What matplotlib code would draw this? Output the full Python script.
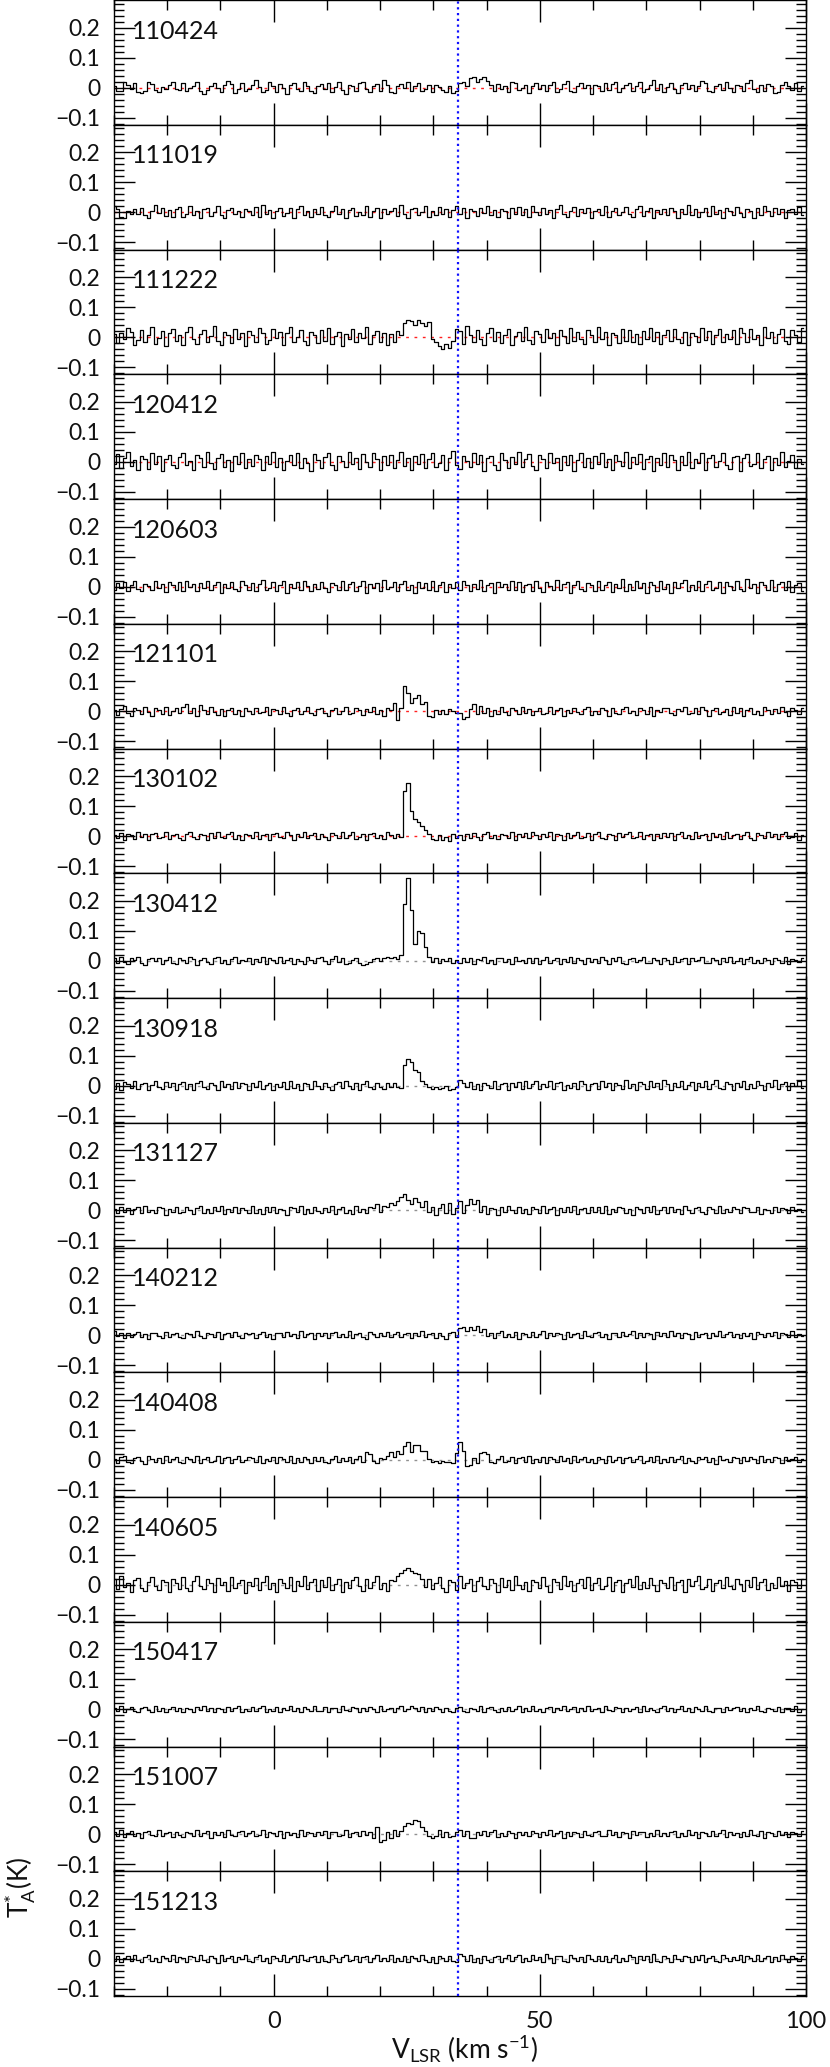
import numpy as np
import matplotlib
matplotlib.use('Agg')
import matplotlib.pyplot as plt
from matplotlib.ticker import MultipleLocator, FixedLocator, FuncFormatter

# ---------------- data ----------------
V0 = -30.0          # first channel velocity (km/s)
DV = 0.65           # channel width (km/s)
V_MARK = 34.7       # systemic velocity marker (km/s)

labels = ['110424', '111019', '111222', '120412', '120603', '121101', '130102', '130412',
          '130918', '131127', '140212', '140408', '140605', '150417', '151007', '151213']

# antenna temperatures in mK, one list per epoch
t110424 = [5,-12,-10,18,8,-5,15,-14,-18,-10,20,12,-8,-15,2,-6,10,18,-4,-8,
           14,-10,-3,6,20,-12,-20,-8,4,15,-2,-16,8,22,12,-18,-6,14,-10,-4,
           10,24,2,-14,-8,18,6,-16,12,-2,-20,8,16,-6,-12,20,4,-10,-18,6,
           12,-4,16,-14,2,18,-8,-20,10,6,-12,14,20,-6,-16,4,12,-10,24,8,
           -14,-18,6,12,-2,20,-10,4,14,-12,-6,10,-16,8,2,-8,-14,6,-18,-10,
           14,20,6,32,36,18,28,34,22,10,-12,12,-4,6,-16,18,14,-8,-2,10,
           -18,4,16,-6,10,-12,8,18,-14,-4,12,22,-10,-16,6,14,-2,8,-20,10,
           4,-12,16,-8,12,20,-16,-2,8,14,-10,6,18,-14,-6,10,24,-8,12,-16,
           2,14,-6,-18,8,16,-4,10,-12,6,22,16,-10,-14,4,12,-8,18,-2,-16,
           10,6,-12,16,24,-4,-14,8,-10,12,4,-18,-16,10,20,6,-8,14,-12,4]
t111019 = [22,10,-15,-18,4,-6,12,-4,16,-10,-20,6,24,-2,14,-12,8,-16,10,18,
           -14,-4,20,-8,6,-18,10,16,-12,2,22,-10,-20,8,14,-6,4,-16,12,6,
           -10,18,-14,24,-6,8,-18,4,16,-12,-2,14,-20,10,20,-8,6,-14,12,-4,
           18,-10,-16,6,22,-4,12,-18,8,16,-12,2,-8,20,-14,6,14,-20,10,-6,
           4,16,-12,24,-6,-18,10,14,-8,2,20,-16,6,-10,18,-4,12,-14,8,22,
           -6,14,-18,10,4,-12,16,-2,22,-10,8,-16,12,6,-20,14,-4,18,-8,10,
           -14,20,2,-10,16,-6,8,-18,12,24,-4,-14,6,18,-12,10,-2,16,-20,4,
           12,-8,20,-16,6,14,-10,2,18,-6,-14,10,22,-12,4,16,-18,8,-4,12,
           -10,16,6,-20,12,-4,24,-8,10,-16,2,14,-12,20,-6,8,-18,16,4,-10,
           18,-2,-14,10,6,-18,14,-8,22,4,-12,16,-6,10,-20,8,12,-4,18,-10]
t111222 = [10,-20,14,-8,30,18,-26,-10,24,-16,8,34,-22,-4,20,-30,12,26,-14,6,
           -28,16,32,-6,-24,10,22,-18,4,36,-12,-26,18,8,-20,28,-8,14,-30,20,
           6,-16,30,12,-22,-10,26,-4,18,-28,14,34,-18,0,22,-14,-26,16,8,-20,
           24,-12,30,-24,4,18,-30,10,-8,26,-18,14,-4,32,-22,6,20,-16,12,-26,
           10,-16,20,8,46,58,52,40,56,48,36,50,-6,-18,-30,-40,-24,-38,-12,26,
           20,-22,36,6,-16,24,-6,-26,12,30,-12,16,-20,8,26,-28,4,18,-14,32,
           -10,-24,20,10,-18,28,-4,14,-26,22,2,-20,30,-12,16,-6,-22,24,8,-16,
           34,-8,18,-28,12,6,-20,28,-14,24,-16,10,-24,20,-6,30,-12,16,-22,8,
           24,-14,28,-6,-20,16,-28,12,4,-18,30,-10,20,-24,6,26,-16,10,-8,22,
           -22,30,14,-16,26,-8,8,-26,34,-4,18,-20,10,28,-14,-24,22,6,-18,30]
t120412 = [-8,26,-20,14,32,-14,6,-28,20,10,-24,30,-6,18,-30,8,24,-12,-22,16,
           30,-10,4,-26,22,14,-18,34,-4,-24,12,26,-16,6,-30,20,-8,28,-20,10,
           -14,24,8,-28,18,-6,32,-18,12,-26,4,22,-12,30,-22,14,-4,-30,26,6,
           -20,16,28,-10,-26,20,2,-16,34,-8,14,-24,26,-2,-18,30,10,-28,18,-12,
           22,-20,6,32,-14,12,-28,20,-6,26,-22,8,30,-16,-4,24,-26,14,36,-10,
           -24,18,4,-16,30,-8,24,-30,12,20,-12,-26,28,6,-20,16,-6,32,-18,10,
           26,-14,-28,22,8,-20,30,-4,14,-26,18,-10,24,-30,6,28,-16,12,-22,20,
           -6,30,-18,10,-28,24,4,-14,32,-22,16,-8,26,-24,8,20,-30,14,-12,28,
           -16,22,6,-26,18,-10,34,-20,10,-4,28,-28,14,24,-18,2,30,-12,-24,16,
           20,-30,12,26,-14,-6,30,-22,8,18,-26,14,-10,32,-16,4,24,-20,10,-8]
t120603 = [-10,12,-4,16,-14,6,18,-8,-16,10,2,-12,20,-6,8,-18,14,4,-10,16,
           -14,20,-2,8,-16,12,-6,18,-12,4,14,-20,10,-4,16,-8,-14,20,6,-10,
           12,-16,8,22,-10,-4,16,-14,6,18,-20,10,-6,14,-12,20,2,-16,8,-8,
           16,-6,-18,12,4,-12,20,-10,8,14,-16,2,18,-20,10,-4,12,-14,22,-8,
           -2,14,-16,10,18,-12,6,-20,16,-4,12,-10,20,-14,4,16,-18,8,-6,14,
           -12,18,4,-16,10,-8,22,-14,6,12,-20,16,-2,8,-12,20,-10,14,-18,6,
           10,-14,18,-6,-18,16,2,-10,22,-12,8,14,-20,6,18,-8,-14,12,4,-16,
           20,-10,6,16,-18,10,-4,24,-14,8,-12,18,-6,12,-22,14,4,-16,20,-8,
           8,-20,16,-4,12,22,-14,6,-10,18,-16,10,20,-12,-6,16,-22,14,2,-10,
           18,-8,-14,24,-6,10,-20,16,4,-12,22,-16,8,14,-10,20,-18,6,12,-14]
t121101 = [5,-12,8,18,-6,-14,10,4,-10,16,-2,-16,12,6,-8,14,-12,2,10,-6,
           16,24,-4,10,-14,20,6,-10,14,-2,-12,8,-16,4,12,-8,6,-14,10,2,
           -10,12,-6,-2,14,-12,8,4,-8,16,-4,-14,6,12,-10,2,14,-6,-12,8,
           10,-4,-14,6,12,-8,2,16,-10,-6,12,4,-12,8,-2,14,-8,6,-14,10,
           4,28,-30,10,85,62,28,45,55,25,32,-15,-18,6,-8,4,-10,8,2,-6,
           -6,-24,-20,8,24,-10,18,-4,12,-14,6,-8,16,-2,-12,10,4,-10,14,-6,
           8,-12,2,12,-8,-4,14,-10,6,10,-14,4,-6,12,-2,-10,8,14,-12,2,
           -8,10,6,-14,12,-4,-10,8,16,-6,2,-12,10,4,-8,14,-14,6,-2,10,
           12,-6,-12,8,2,14,-10,-4,10,-8,16,6,-14,4,12,-10,-2,8,-12,14,
           -4,10,-14,6,12,-8,2,-12,16,4,-10,8,-6,14,-2,-14,10,6,-8,12]
t130102 = [4,-8,10,-12,6,2,-10,12,-4,8,-14,6,10,-6,-2,12,-10,4,8,-8,
           -12,6,14,-4,-10,8,2,-14,10,-6,12,-2,-8,6,14,-10,4,-12,8,2,
           -6,12,-10,4,8,-14,6,10,-4,-8,12,2,-12,6,-2,14,-8,4,10,-10,
           8,-4,-12,10,2,-8,14,-6,4,12,-10,-2,8,-14,6,10,-6,2,-10,12,
           4,-8,6,-4,150,176,85,58,48,34,20,6,-10,-14,4,-12,-2,-16,6,-8,
           4,-12,8,-6,10,-2,-14,6,12,-8,2,-10,8,4,-6,12,-12,6,-4,10,
           -8,14,2,-10,6,-4,12,-12,8,2,-14,10,-6,4,12,-8,-2,10,-12,6,
           12,-6,-10,8,4,-14,10,-2,6,12,-8,-4,14,-10,2,8,-12,6,-6,10,
           -4,10,-12,6,14,-8,2,-10,12,-6,4,8,-14,10,-2,6,-10,12,-8,2,
           8,-10,4,12,-6,-12,10,2,-8,14,-4,6,-10,8,12,-6,-2,10,-12,4]
t130412 = [10,-6,14,-4,-12,8,2,12,-8,-14,6,10,-2,8,-10,4,12,-6,-12,10,
           2,-8,12,6,-14,4,10,-4,-10,8,14,-6,2,-12,6,12,-8,4,-2,10,
           -10,6,-4,12,-12,8,2,-8,14,-6,4,10,-12,6,-2,-10,12,4,-6,8,
           12,-2,-10,6,16,-4,8,-12,-8,4,10,-6,-14,-10,-4,6,8,-2,10,14,
           8,12,6,20,190,276,170,55,100,92,45,12,-4,8,-6,6,-2,8,-8,4,
           -6,8,-4,10,-10,6,2,12,-8,4,-12,8,10,-4,6,-10,12,-2,4,-8,
           10,-6,8,-12,4,12,-8,2,10,-10,6,-4,12,-6,8,2,-10,10,-4,6,
           -8,12,4,-10,8,-2,14,-6,-12,6,10,-4,2,12,-8,-6,10,4,-10,8,
           4,-10,12,-4,6,10,-12,8,-2,4,14,-8,-6,10,2,-12,8,-4,12,-6,
           -2,8,-10,6,12,-8,4,-6,10,2,-12,8,4,-6,12,-10,6,2,-4,8]
t130918 = [-10,8,-14,12,4,-8,16,-12,6,10,-16,2,14,-6,-10,12,-4,8,-14,6,
           12,-10,4,-16,10,14,-6,-12,8,2,-14,16,-4,6,-10,12,-8,10,4,-16,
           8,-6,14,-12,2,10,-16,6,-4,12,-10,16,-8,4,-14,10,6,-12,14,-2,
           -12,10,-4,-16,4,12,-8,14,-2,-10,8,-14,6,16,-6,-12,10,-4,-10,8,
           -6,10,-4,-8,70,87,80,53,45,15,4,-6,-10,-4,-12,-8,-2,-14,-12,-6,
           18,8,-4,12,-10,6,-14,10,2,-8,14,-12,4,10,-16,8,-6,12,-10,16,
           -8,4,14,-12,6,-4,16,-10,8,12,-14,2,-8,10,-12,14,6,-16,4,10,
           -12,16,-6,8,-14,10,2,-10,18,-8,4,-16,12,6,-10,14,-4,8,-12,20,
           4,-14,10,-6,16,-10,2,12,-16,8,-4,14,-12,6,18,-8,-10,12,4,-14,
           10,-4,16,-12,6,-8,14,2,-14,10,-6,18,-10,4,12,-16,8,-2,14,-8]
t131127 = [6,-10,12,-4,8,-12,4,10,-8,14,-6,2,-10,12,8,-14,6,-4,10,-8,
           -6,12,2,-12,8,14,-8,4,-10,10,-2,16,-12,6,-6,12,-10,8,2,-8,
           14,-8,4,-12,10,-4,12,-10,6,2,-14,10,8,-6,14,-12,4,-8,12,-2,
           -10,8,-4,14,-12,6,10,-8,2,-12,16,-6,4,-10,12,8,20,-4,14,10,
           26,18,32,44,54,36,22,40,28,10,30,-6,12,-14,8,22,-10,26,-12,8,
           30,-8,18,38,22,34,-6,16,-12,8,4,-14,10,-6,14,2,-10,12,-8,6,
           -12,10,4,-8,14,-10,6,12,-14,8,-4,10,-6,16,-12,4,8,-10,12,-6,
           10,-8,14,-12,6,-4,12,8,-10,4,-14,10,6,-8,12,-6,16,-12,2,10,
           -8,12,-4,6,-12,14,2,-10,8,12,-6,-12,10,4,-8,14,-10,6,-4,10,
           4,-10,12,8,-6,-4,10,-12,6,2,-8,12,-6,8,4,-10,10,-2,6,-4]
t140212 = [12,-4,6,-10,8,-6,2,10,-8,4,-12,6,8,-4,-10,10,-6,4,8,-8,
           -10,6,4,-8,12,-4,-10,8,2,-6,10,-12,4,6,-8,10,-2,-10,6,4,
           8,-10,2,10,-6,4,-12,8,6,-8,10,-4,2,-10,12,-6,4,8,-12,6,
           -4,8,-10,6,10,-8,2,-6,12,-10,4,8,-6,-12,10,2,-8,6,-4,10,
           -8,4,10,-6,2,8,-10,6,-4,12,-8,2,6,-10,8,-4,-12,6,10,-6,
           22,28,14,26,18,30,10,20,-4,8,-10,6,12,-8,4,-6,10,-12,8,2,
           -6,10,-8,4,12,-10,6,-4,8,2,-12,10,-6,4,8,-10,12,-2,-8,6,
           10,-6,4,-12,8,6,-8,10,-4,2,12,-10,6,-6,8,4,-12,10,-2,6,
           -8,12,-4,6,-10,8,2,-12,10,-6,4,8,-10,6,-4,12,-8,2,10,-6,
           4,-10,8,-2,6,-12,10,4,-8,6,-4,10,-10,8,2,-6,12,-8,4,-4]
t140408 = [4,-10,8,12,-6,-12,6,10,-4,-14,12,2,-8,6,-10,14,-6,4,10,-8,
           -12,8,4,-6,14,-10,2,10,-8,-4,12,-12,6,8,-10,4,12,-6,-2,10,
           6,-8,12,-10,4,-4,10,-12,8,2,-6,14,-10,6,-8,10,4,-12,8,-4,
           10,-6,-12,4,12,-8,6,-4,10,-10,2,12,-6,25,20,-4,-10,6,2,12,
           25,10,30,20,45,58,25,50,48,30,28,2,-8,-5,-10,-4,-8,-6,-10,22,
           58,30,-20,-18,5,-12,22,26,18,-6,-10,4,12,-8,-4,10,-12,6,8,-6,
           12,-10,4,-6,10,-12,8,2,-8,12,-4,6,-10,14,-6,2,10,-8,4,-12,
           8,4,-10,12,-6,-2,10,-12,6,8,-8,4,12,-10,-4,8,-6,14,-10,2,
           -6,10,-8,4,12,-10,6,-4,-12,8,2,10,-8,6,-14,12,-2,4,-8,10,
           6,-12,10,-4,8,2,-10,12,-6,4,-8,10,6,-12,8,-4,2,10,-6,4]
t140605 = [20,-16,28,-8,6,-24,16,22,-12,-20,10,26,-6,-18,14,8,-26,20,4,-14,
           24,-10,-22,12,30,-6,-16,18,4,-24,22,-2,10,-20,26,-12,6,16,-28,8,
           -4,22,-18,10,28,-14,4,-24,18,6,-10,24,-20,12,-6,30,-16,8,20,-22,
           14,-8,26,-18,2,20,-26,10,-12,16,24,-6,-20,18,-10,8,28,-14,4,-22,
           16,12,30,38,50,56,44,40,36,20,-8,18,-16,6,24,-12,-24,14,8,-18,
           28,-10,4,20,-22,12,26,-4,-16,18,6,-24,22,-8,14,-18,30,-2,-14,10,
           -20,16,8,-12,24,-6,-26,20,10,-16,28,-4,12,-22,6,18,-10,24,-18,4,
           22,-14,-6,26,-20,10,16,-24,4,20,-8,30,-16,8,-12,22,-2,-20,14,6,
           -10,24,-18,8,14,-26,20,-4,12,28,-14,-8,18,-22,6,16,-12,26,-6,-16,
           18,2,-20,14,-8,24,-14,10,20,-18,4,-10,26,-6,12,-22,16,8,-12,20]
t150417 = [6,-4,10,-8,2,8,-6,-10,4,8,-2,-8,10,-4,6,-10,2,8,-6,4,
           -8,6,2,-10,8,-2,10,-6,4,-8,6,2,-10,8,-4,6,10,-8,2,-6,
           8,-6,4,10,-10,2,-4,8,-8,6,-2,10,-6,4,-10,8,2,-6,10,-4,
           -6,8,-10,4,6,-8,10,-2,-6,8,4,-10,6,-4,8,2,-8,10,-6,2,
           4,-8,6,10,-6,2,12,6,-4,8,-10,4,-6,8,2,-8,6,-4,-10,4,
           8,-4,-10,6,2,-6,10,-8,4,8,-2,-10,6,-4,8,-6,2,10,-8,4,
           -6,10,-4,2,-8,6,8,-10,4,-2,10,-6,2,8,-8,4,-4,10,-6,2,
           6,-8,10,-2,-6,8,4,-10,6,-4,2,8,-8,10,-6,4,-2,-8,6,10,
           -4,6,-8,2,10,-6,4,-10,8,2,-6,10,-4,-8,6,4,-10,8,-2,6,
           8,-6,4,-10,6,-2,10,-4,-8,6,2,-6,8,-10,4,6,-4,10,-8,2]
t151007 = [8,-6,12,-10,4,10,-8,2,-12,6,10,-4,-8,12,-6,4,8,-10,6,-2,
           -10,8,4,-8,12,-6,2,10,-12,6,-4,8,-10,12,-2,-8,6,10,-6,4,
           10,-8,-4,12,-10,6,2,-6,10,-12,8,-2,4,-10,12,-6,8,2,-8,6,
           -4,10,-12,6,8,-6,-2,12,-10,4,6,-8,10,-4,8,-12,24,-26,-20,6,
           -14,12,-8,10,28,36,34,48,42,22,10,-6,-12,-8,14,-10,8,-10,-8,6,
           12,-6,10,-14,-12,8,-4,10,-8,6,12,-10,4,-6,10,2,-12,8,-4,6,
           -8,10,4,-10,6,-4,12,-8,2,10,-12,6,-6,8,4,-10,10,-2,-8,6,
           10,-6,-8,12,-4,6,-10,8,2,-12,10,-4,6,8,-10,4,-6,12,-8,2,
           -6,8,10,-10,4,-8,12,-4,6,-12,8,2,-6,10,-8,4,12,-10,6,-2,
           4,-10,8,-6,12,-2,-8,10,-12,6,4,-8,10,-4,6,-10,8,2,-6,10]
t151213 = [-6,10,-12,4,8,-8,12,-4,-10,6,14,-6,2,-12,10,4,-8,12,-10,6,
           2,-12,10,6,-8,14,-4,-10,8,2,-14,12,-6,4,10,-10,6,-2,14,-8,
           -10,6,12,-8,4,-14,10,2,-6,14,-12,4,8,-10,12,-4,-8,6,10,-12,
           8,-6,-12,12,4,-10,6,14,-8,-4,10,-12,6,8,-10,2,12,-8,4,-6,
           14,-10,4,-6,10,-12,8,2,-8,12,-4,-10,6,-14,8,4,-6,10,-8,-12,
           16,10,-6,12,-10,4,-14,8,-4,-12,6,10,-10,2,12,-8,6,14,-12,4,
           -8,12,-4,6,-10,16,2,-14,8,10,-6,-12,12,4,-8,6,-10,14,-2,-8,
           10,-6,8,-12,4,14,-10,2,-8,12,6,-14,10,-4,8,-10,16,-6,-12,8,
           4,-10,12,-2,-8,10,6,-12,8,-4,14,-10,2,10,-6,-12,12,4,-8,6,
           -4,12,-10,8,2,-6,14,-8,4,10,-12,6,-6,12,-2,-10,8,4,-8,10]

spectra = [t110424, t111019, t111222, t120412, t120603, t121101, t130102, t130412,
           t130918, t131127, t140212, t140408, t140605, t150417, t151007, t151213]
red_baseline = [True] * 7 + [False] * 9

# ---------------- figure ----------------
plt.rcParams['font.family'] = ['Lato', 'DejaVu Sans']
plt.rcParams['font.weight'] = 'normal'
plt.rcParams['mathtext.fontset'] = 'custom'
plt.rcParams['mathtext.rm'] = 'Lato'
plt.rcParams['mathtext.it'] = 'Lato'
plt.rcParams['mathtext.bf'] = 'Lato'

TXT = '#111111'
W, H = 830, 2067
fig = plt.figure(figsize=(W / 100, H / 100), dpi=100)
left = 114 / W
width = 692 / W
ph = 124.75 / H

fmt = FuncFormatter(lambda x, p: ('%g' % round(x, 3)).replace('-', '\u2212'))

n = len(spectra)
for k in range(n):
    y = np.asarray(spectra[k], dtype=float) / 1000.0
    v = V0 + DV * np.arange(len(y))
    ax = fig.add_axes([left, 1 - (k + 1) * ph, width, ph])
    ax.set_xlim(-30, 100)
    ax.set_ylim(-0.124, 0.292)
    zc = '#ff2020' if red_baseline[k] else '#909090'
    ax.axhline(0, color=zc, lw=1.0, ls=(0, (2, 4)), zorder=1)
    ax.plot(v, y, drawstyle='steps-mid', color='black', lw=0.9, zorder=2)
    ax.axvline(V_MARK, color='#1010ff', lw=1.6, ls=(0, (1, 1.6)), zorder=3)
    ax.text(0.026, 0.75, labels[k], transform=ax.transAxes, fontsize=18,
            ha='left', va='center', color=TXT)
    ax.xaxis.set_major_locator(FixedLocator([0, 50, 100]))
    ax.xaxis.set_minor_locator(MultipleLocator(10))
    ax.yaxis.set_major_locator(FixedLocator([-0.1, 0, 0.1, 0.2]))
    ax.yaxis.set_minor_locator(MultipleLocator(0.02))
    ax.yaxis.set_major_formatter(fmt)
    ax.tick_params(which='both', direction='in', top=True, right=True, width=1.0,
                   colors='black', labelcolor=TXT)
    ax.tick_params(which='major', axis='x', length=15.5, labelsize=17, pad=11)
    ax.tick_params(which='minor', axis='x', length=7.2)
    ax.tick_params(which='major', axis='y', length=15, labelsize=16.5, pad=10)
    ax.tick_params(which='minor', axis='y', length=7.2)
    for s in ax.spines.values():
        s.set_linewidth(1.0)
    if k < n - 1:
        ax.tick_params(axis='x', labelbottom=False)

fig.text(0.5 * (114 + 806) / W + 0.005, 1 - 2049 / H, r'V$_{\rm LSR}$ (km s$^{-1}$)',
         ha='center', va='center', fontsize=19, color=TXT)
fig.text(20 / W, 1 - 1887 / H, r'T$_{\rm A}^{*}$(K)', rotation=90,
         ha='center', va='center', fontsize=19, color=TXT)

fig.savefig('out.png', dpi=100)
